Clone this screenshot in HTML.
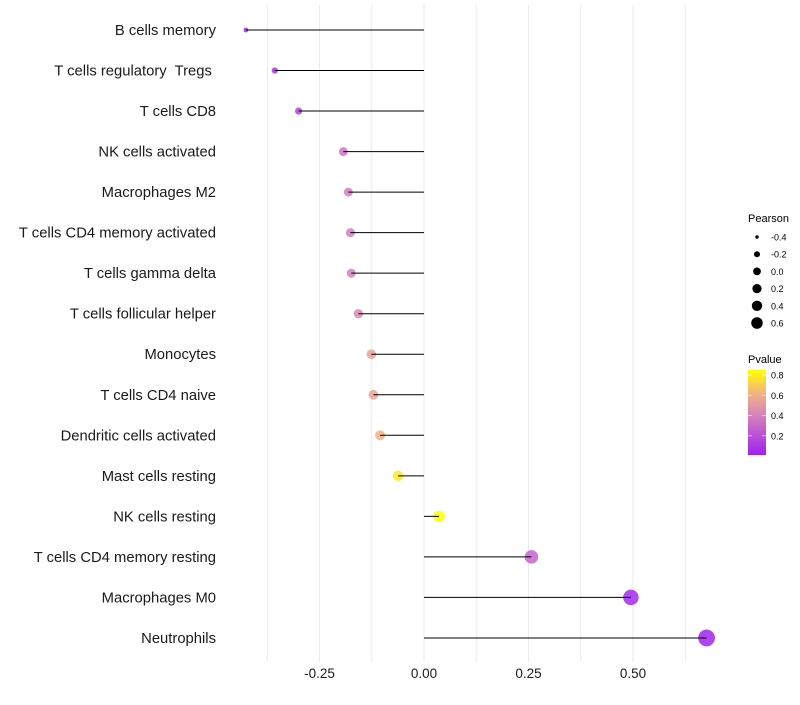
<!DOCTYPE html>
<html><head><meta charset="utf-8"><style>
body{margin:0;background:#fff;font-family:"Liberation Sans",sans-serif}
svg text{font-family:"Liberation Sans",sans-serif}
</style></head><body>
<svg id="chart" width="800" height="700" viewBox="0 0 800 700" xmlns="http://www.w3.org/2000/svg">
<defs><linearGradient id="pg" x1="0" y1="1" x2="0" y2="0">
<stop offset="0" stop-color="#a020f0"/><stop offset="0.45" stop-color="#d47fc0"/><stop offset="0.72" stop-color="#f2b184"/><stop offset="1" stop-color="#ffff00"/>
</linearGradient></defs>
<g id="grid"></g>
<g id="marks"></g>
<g id="ylab"></g>
<g id="xlab"></g>
<g>
<text x="748" y="222" font-size="11">Pearson</text>
<g id="sizeleg"></g>
</g>
<g>
<text x="748" y="363" font-size="11">Pvalue</text>
<rect x="748" y="370" width="18" height="85" fill="url(#pg)"/>
<g id="colleg"></g>
</g>
</svg>
<script>
const categories=["B cells memory","T cells regulatory  Tregs ","T cells CD8","NK cells activated","Macrophages M2","T cells CD4 memory activated","T cells gamma delta","T cells follicular helper","Monocytes","T cells CD4 naive","Dendritic cells activated","Mast cells resting","NK cells resting","T cells CD4 memory resting","Macrophages M0","Neutrophils"];
const pearson=[-0.426,-0.357,-0.300,-0.193,-0.181,-0.176,-0.174,-0.157,-0.126,-0.121,-0.105,-0.062,0.036,0.257,0.495,0.676];
const pvalue=[0.05,0.10,0.15,0.35,0.38,0.39,0.40,0.43,0.55,0.56,0.62,0.78,0.85,0.28,0.04,0.02];
const xTicks=[-0.25,0,0.25,0.5];
const xTickLabels=["-0.25","0.00","0.25","0.50"];
const sizeLegend=[-0.4,-0.2,0,0.2,0.4,0.6];
const sizeLegendLabels=["-0.4","-0.2","0.0","0.2","0.4","0.6"];
const colorLegend=[0.2,0.4,0.6,0.8];
const colorLegendLabels=["0.2","0.4","0.6","0.8"];
const NS="http://www.w3.org/2000/svg";
function X(v){return 424+v*418;}
function Y(i){return 30+i*40.53;}
function R(v){return 1.2*Math.sqrt(Math.max(1,21.4+40.8*v));}
function RL(v){return 1.15*Math.sqrt(Math.max(1,11.35+22.75*v));}
function CB(p){return 455-(p-0.01)/(0.85-0.01)*85;}
const stops=[[0.01,[160,32,240]],[0.39,[212,127,192]],[0.62,[242,177,132]],[0.85,[255,255,0]]];
function col(p){p=Math.max(0.01,Math.min(0.85,p));for(let k=0;k<stops.length-1;k++){const a=stops[k],b=stops[k+1];if(p<=b[0]){const t=(p-a[0])/(b[0]-a[0]);const c=a[1].map((x,j)=>Math.round(x+(b[1][j]-x)*t));return`rgb(${c})`;}}return"rgb(255,255,0)";}
function mk(t,at,par){const e=document.createElementNS(NS,t);for(const k in at)e.setAttribute(k,at[k]);par.appendChild(e);return e;}
const g=document.getElementById('grid');
for(let v=-0.375;v<=0.63;v+=0.125){const l=mk('line',{x1:X(v),x2:X(v),y1:5,y2:662,stroke:'#ebebeb','stroke-width':1},g);

}
const m=document.getElementById('marks'),yl=document.getElementById('ylab');
categories.forEach((c,i)=>{
const pt=mk('circle',{cx:X(pearson[i]),cy:Y(i),r:R(pearson[i]),fill:col(pvalue[i]),'fill-opacity':0.85},m);


const ln=mk('line',{x1:X(0),x2:X(pearson[i]),y1:Y(i),y2:Y(i),stroke:'#000','stroke-width':1},m);


const t=mk('text',{x:216,y:Y(i)+5,'text-anchor':'end','font-size':14.8,fill:'#1a1a1a',style:'white-space:pre'},yl);
t.textContent=c;


});
const xl=document.getElementById('xlab');
xTicks.forEach((v,i)=>{const t=mk('text',{x:X(v),y:678,'text-anchor':'middle','font-size':13.5,fill:'#1a1a1a'},xl);t.textContent=xTickLabels[i];

});
const sl=document.getElementById('sizeleg');
sizeLegend.forEach((v,i)=>{const y=237+i*17.2;const c=mk('circle',{cx:757,cy:y,r:RL(v),fill:'#000'},sl);


const t=mk('text',{x:771,y:y+3.5,'font-size':9},sl);t.textContent=sizeLegendLabels[i];

});
const cl=document.getElementById('colleg');
colorLegend.forEach((v,i)=>{const y=CB(v);mk('line',{x1:748,x2:752,y1:y,y2:y,stroke:'#fff','stroke-opacity':0.6},cl);mk('line',{x1:762,x2:766,y1:y,y2:y,stroke:'#fff','stroke-opacity':0.6},cl);
const t=mk('text',{x:771,y:y+3.5,'font-size':9},cl);t.textContent=colorLegendLabels[i];

});
</script>
</body></html>
